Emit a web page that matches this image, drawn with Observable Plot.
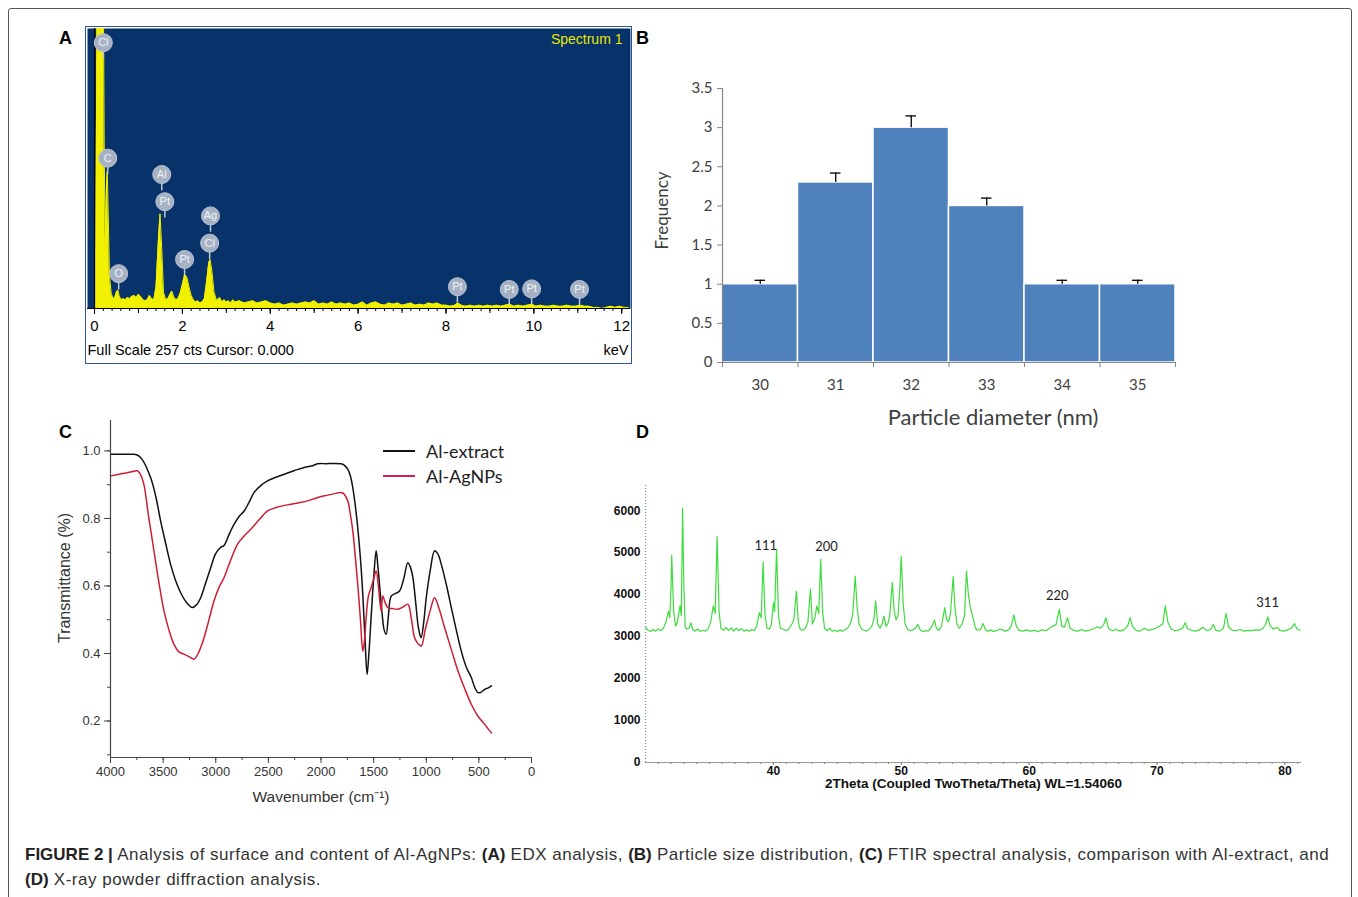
<!DOCTYPE html>
<html><head><meta charset="utf-8">
<script src="https://cdn.jsdelivr.net/npm/d3@7"></script>
<script src="https://cdn.jsdelivr.net/npm/@observablehq/plot@0.6"></script>
<style>
body{margin:0;background:#fff;}
#fig{position:relative;width:1358px;height:897px;overflow:hidden;font-family:"Liberation Sans",Arial,sans-serif;background:#fff;}
.panel{position:absolute;}
.panel svg{overflow:visible;display:block;}
.lab{position:absolute;font-weight:bold;font-size:18px;color:#000;line-height:20px;}
#frame{position:absolute;left:8px;top:8px;width:1342px;height:910px;border:1.5px solid #555;border-radius:3px;}
.cap{position:absolute;left:25px;font-size:17px;line-height:20px;color:#333;white-space:nowrap;letter-spacing:0.5px;}
.cap b{color:#222;letter-spacing:0;}
.leg{position:absolute;font-family:Lato,"Open Sans",sans-serif;font-size:18px;color:#222;display:flex;align-items:center;}
.leg span.ln{display:inline-block;width:32px;height:2px;margin-right:11px;}
</style></head><body>
<div id="fig">
  <div id="frame"></div>
  <div class="panel" id="pA" style="left:86px;top:27px;"></div>
  <div class="panel" id="pB" style="left:640px;top:70px;"></div>
  <div class="panel" id="pC" style="left:50px;top:410px;"></div>
  <div class="panel" id="pD" style="left:600px;top:470px;"></div>
  <div class="lab" style="left:59px;top:28px;">A</div>
  <div class="lab" style="left:636px;top:28px;">B</div>
  <div class="lab" style="left:59px;top:422px;">C</div>
  <div class="lab" style="left:636px;top:422px;">D</div>
  <div class="leg" style="left:383px;top:440px;"><span class="ln" style="background:#111"></span>Al-extract</div>
  <div class="leg" style="left:383px;top:465px;"><span class="ln" style="background:#d81b60"></span>Al-AgNPs</div>
  <div class="cap" style="top:845px;"><b>FIGURE 2 |</b> Analysis of surface and content of Al-AgNPs: <b>(A)</b> EDX analysis, <b>(B)</b> Particle size distribution, <b>(C)</b> FTIR spectral analysis, comparison with Al-extract, and</div>
  <div class="cap" style="top:870px;"><b>(D)</b> X-ray powder diffraction analysis.</div>
</div>
<script>
// ---------- Panel A: EDX spectrum ----------
const edxKeV = [0.00,0.03,0.06,0.10,0.15,0.20,0.22,0.24,0.27,0.29,0.31,0.34,0.38,0.42,0.46,0.50,0.53,0.56,0.60,0.65,0.70,0.75,0.80,0.85,0.90,0.95,1.00,1.05,1.10,1.15,1.20,1.25,1.30,1.35,1.40,1.45,1.49,1.53,1.57,1.62,1.67,1.72,1.76,1.80,1.85,1.90,1.95,2.00,2.05,2.10,2.15,2.20,2.25,2.30,2.35,2.40,2.45,2.50,2.55,2.60,2.63,2.67,2.72,2.78,2.85,2.90,2.95,3.00,3.05,3.10,3.15,3.20,3.30,3.40,3.50,3.60,3.70,3.80,3.90,4.00,4.10,4.20,4.30,4.40,4.50,4.60,4.70,4.80,4.90,5.00,5.10,5.20,5.30,5.40,5.50,5.60,5.70,5.80,5.90,6.00,6.10,6.20,6.30,6.40,6.50,6.60,6.70,6.80,6.90,7.00,7.10,7.20,7.30,7.40,7.50,7.60,7.70,7.80,7.90,8.00,8.10,8.20,8.27,8.35,8.45,8.55,8.65,8.75,8.85,8.95,9.05,9.15,9.25,9.35,9.44,9.55,9.65,9.75,9.85,9.95,10.05,10.15,10.25,10.35,10.45,10.55,10.65,10.75,10.85,10.95,11.05,11.15,11.25,11.35,11.45,11.55,11.65,11.75,11.85,11.95,12.05,12.15];
const edxCounts = [0,60,300,300,300,300,150,60,110,126,90,30,14,9,10,15,17,12,8,9,8,10,9,11,12,10,13,11,8,7,8,12,9,8,20,60,87,55,15,8,9,13,16,11,8,9,14,22,31,29,20,12,8,6,7,5,6,9,24,42,45,35,15,7,10,6,8,6,7,5,8,6,7,5,6,7,5,6,7,5,4,5,3,4,5,4,5,6,5,7,4,5,4,6,4,5,4,5,3,4,6,3,5,6,4,3,5,4,5,3,4,5,3,4,3,5,4,5,3,3,2,3,5,3,2,3,2,3,2,3,2,3,2,3,4,2,3,2,3,4,2,3,2,2,3,2,2,3,2,2,3,2,2,1,1,0,1,2,1,2,1,1];
const edxElements = ["Cl","C","O","Al","Pt","Pt","Ag","Cl","Pt","Pt","Pt","Pt"];
const edxLabelKeV = [0.20,0.30,0.55,1.53,1.60,2.05,2.64,2.62,8.26,9.44,9.95,11.04];
const edxLabelCts = [244,138,32,123,98,45,85,60,20,17.5,18,17.5];
const edxTickLabels = [0,2,4,6,8,10,12];

// ---------- Panel B: particle size ----------
const sizeNm = [30,31,32,33,34,35];
const sizeFreq = [1,2.3,3,2,1,1];
const sizeErr = [0.05,0.12,0.15,0.1,0.05,0.05];
const freqTicks = [0,0.5,1,1.5,2,2.5,3,3.5];

// ---------- Panel C: FTIR ----------
const ftirExtractWn = [4000,3900,3800,3746,3700,3619,3570,3524,3475,3429,3380,3333,3280,3222,3180,3143,3100,3048,3010,2984,2950,2921,2870,2825,2780,2730,2680,2635,2570,2508,2430,2349,2250,2159,2090,2032,1950,1880,1810,1780,1746,1720,1698,1675,1651,1625,1603,1580,1562,1545,1524,1500,1476,1460,1444,1420,1400,1381,1360,1333,1290,1254,1215,1175,1150,1127,1100,1079,1060,1048,1025,1000,960,921,890,857,810,762,715,667,620,571,540,508,480,444,410,381];
const ftirExtractT = [0.99,0.99,0.99,0.988,0.975,0.921,0.865,0.793,0.725,0.664,0.615,0.58,0.552,0.536,0.545,0.565,0.605,0.654,0.69,0.704,0.715,0.72,0.755,0.783,0.805,0.822,0.85,0.877,0.898,0.911,0.922,0.931,0.942,0.951,0.955,0.962,0.962,0.963,0.962,0.958,0.946,0.925,0.891,0.84,0.773,0.68,0.575,0.43,0.338,0.4,0.506,0.62,0.704,0.66,0.605,0.52,0.47,0.457,0.51,0.57,0.578,0.585,0.62,0.669,0.655,0.625,0.55,0.486,0.455,0.447,0.49,0.565,0.65,0.704,0.695,0.664,0.605,0.536,0.47,0.407,0.36,0.328,0.3,0.284,0.285,0.294,0.298,0.304];
const ftirAgWn = [4000,3900,3800,3746,3715,3683,3640,3587,3540,3492,3445,3397,3350,3302,3250,3206,3160,3111,3060,3016,2970,2921,2860,2794,2730,2667,2590,2508,2400,2286,2200,2127,2050,1968,1890,1810,1780,1746,1720,1698,1675,1651,1625,1603,1590,1571,1550,1524,1500,1476,1455,1429,1413,1390,1365,1320,1270,1220,1175,1140,1111,1080,1048,1010,960,921,880,825,760,698,640,571,510,444,410,381];
const ftirAgT = [0.926,0.932,0.938,0.941,0.93,0.901,0.81,0.704,0.61,0.526,0.47,0.427,0.405,0.398,0.39,0.383,0.405,0.447,0.505,0.556,0.595,0.625,0.675,0.723,0.748,0.768,0.795,0.822,0.835,0.842,0.847,0.852,0.86,0.867,0.872,0.877,0.872,0.852,0.81,0.763,0.69,0.605,0.5,0.407,0.43,0.506,0.57,0.595,0.62,0.644,0.6,0.526,0.57,0.55,0.536,0.533,0.531,0.538,0.546,0.5,0.447,0.43,0.422,0.47,0.53,0.565,0.535,0.476,0.41,0.348,0.3,0.249,0.215,0.19,0.176,0.165];
const ftirWnTicks = [4000,3500,3000,2500,2000,1500,1000,500,0];
const ftirTTicks = [0.2,0.4,0.6,0.8,1.0];

// ---------- Panel D: XRD ----------
const xrdTheta = [30.0,30.2,30.4,30.6,30.8,31.0,31.2,31.4,31.6,31.8,31.9,32.0,32.05,32.2,32.35,32.5,32.7,32.8,32.9,33.0,33.1,33.2,33.4,33.55,33.7,33.9,34.1,34.3,34.5,34.7,34.9,35.1,35.3,35.45,35.6,35.75,35.9,36.1,36.3,36.5,36.7,36.9,37.1,37.3,37.5,37.7,37.9,38.1,38.3,38.5,38.7,38.9,39.05,39.2,39.35,39.5,39.7,39.85,40.0,40.1,40.25,40.4,40.55,40.8,41.0,41.2,41.45,41.6,41.8,41.95,42.1,42.3,42.5,42.7,42.9,43.05,43.25,43.4,43.55,43.7,43.85,44.0,44.2,44.4,44.6,44.8,45.0,45.2,45.4,45.6,45.8,46.0,46.2,46.4,46.55,46.7,46.9,47.1,47.3,47.5,47.7,47.85,48.0,48.15,48.35,48.5,48.65,48.8,48.95,49.1,49.3,49.45,49.6,49.75,49.9,50.0,50.15,50.3,50.5,50.7,50.9,51.1,51.3,51.5,51.7,51.9,52.1,52.3,52.45,52.6,52.75,52.95,53.15,53.4,53.55,53.7,53.85,54.06,54.2,54.35,54.55,54.75,54.95,55.1,55.25,55.4,55.6,55.8,56.0,56.2,56.4,56.6,56.8,57.0,57.2,57.5,57.8,58.1,58.4,58.6,58.8,59.0,59.2,59.5,59.8,60.1,60.4,60.7,61.0,61.3,61.6,61.85,62.1,62.36,62.55,62.75,63.0,63.2,63.5,63.8,64.1,64.4,64.7,65.0,65.3,65.6,65.85,66.0,66.2,66.5,66.8,67.1,67.4,67.7,67.9,68.1,68.4,68.7,69.0,69.3,69.6,69.9,70.2,70.45,70.65,70.85,71.1,71.4,71.7,72.0,72.2,72.4,72.7,73.0,73.3,73.6,73.9,74.2,74.4,74.6,74.9,75.2,75.4,75.6,75.9,76.2,76.5,76.8,77.1,77.4,77.7,78.0,78.3,78.5,78.66,78.85,79.1,79.4,79.6,79.9,80.2,80.5,80.75,80.95,81.2];
const xrdCounts = [3230,3150,3120,3170,3130,3180,3140,3200,3350,3610,3450,4200,4936,3600,3250,3350,3730,3500,6060,4200,3250,3180,3200,3330,3160,3130,3180,3120,3150,3130,3190,3350,3730,3550,5380,3600,3200,3150,3220,3140,3210,3130,3200,3140,3190,3130,3160,3130,3170,3140,3250,3570,3450,4775,3500,3200,3180,3300,3810,3600,5080,3500,3200,3170,3140,3180,3300,3400,4080,3350,3170,3150,3200,3350,4130,3300,3450,3730,3550,4840,3600,3200,3140,3200,3130,3150,3120,3160,3130,3170,3200,3300,3500,4440,3700,3300,3180,3150,3130,3180,3250,3400,3850,3300,3200,3300,3490,3250,3300,3500,4290,3600,3400,3500,4200,4910,3800,3300,3170,3140,3160,3200,3290,3150,3120,3140,3130,3200,3280,3390,3200,3150,3250,3690,3400,3350,3550,4430,3700,3300,3200,3300,3500,4560,4010,3700,3470,3200,3150,3170,3310,3150,3130,3160,3120,3150,3180,3130,3160,3250,3515,3250,3150,3130,3160,3130,3150,3120,3160,3140,3200,3250,3280,3650,3250,3220,3450,3200,3150,3130,3170,3130,3150,3180,3230,3200,3300,3450,3200,3140,3170,3130,3160,3250,3450,3230,3140,3130,3200,3150,3170,3200,3250,3300,3730,3350,3180,3140,3160,3200,3330,3180,3150,3130,3160,3220,3140,3170,3290,3150,3130,3200,3550,3230,3150,3140,3170,3130,3150,3140,3160,3150,3200,3300,3470,3250,3180,3220,3150,3130,3160,3200,3310,3180,3150];
const xrdHkl = ["111","200","220","311"];
const xrdHklTheta = [39.4,44.15,62.2,78.65];
const xrdHklCounts = [5170,5140,3970,3800];
const xrdCountTicks = [0,1000,2000,3000,4000,5000,6000];
const xrdThetaTicks = [40,50,60,70,80];

// ===== Panel A =====
const edxData = edxKeV.map((k, i) => ({keV: k, cts: edxCounts[i]}));
const edxLabels = edxElements.map((el, i) => ({el, keV: edxLabelKeV[i], cts: edxLabelCts[i]}));
const plotA = Plot.plot({
  width: 545, height: 336, marginTop: 1, marginLeft: 1, marginRight: 1, marginBottom: 55,
  x: {domain: [-0.16, 12.2], label: null},
  y: {domain: [0, 257], label: null, axis: null},
  style: {fontFamily: "'Liberation Sans', Arial, sans-serif", fontSize: "14px", color: "#000", background: "#fff", outline: "1.2px solid #2f5597"},
  marks: [
    Plot.frame({fill: "#08336a", stroke: null}),
    Plot.areaY(edxData, {x: "keV", y: "cts", fill: "#f0f000", curve: "linear", clip: true}),
    Plot.lineY(edxData, {x: "keV", y: "cts", stroke: "#f0f000", strokeWidth: 1, clip: true}),
    Plot.ruleX([0], {stroke: "#000", strokeWidth: 1.2}),
    Plot.ruleX(edxLabels, {x: "keV", y1: "cts", y2: d => d.cts - 15, stroke: "#c2cad6", strokeWidth: 1.5}),
    Plot.dot(edxLabels, {x: "keV", y: "cts", r: 9, fill: "#a6b2c4", stroke: "#b9c3d1", strokeWidth: 1}),
    Plot.text(edxLabels, {x: "keV", y: "cts", text: "el", fill: "#eef2f7", fontSize: 11}),
    Plot.ruleY([0], {stroke: "#000", strokeWidth: 1.2}),
    Plot.axisX({ticks: d3.range(0, 12.01, 0.2), tickSize: 3, tickFormat: () => "", stroke: "#000"}),
    Plot.axisX({ticks: d3.range(0, 12.01, 1), tickSize: 5, tickFormat: () => "", stroke: "#000"}),
    Plot.axisX({ticks: edxTickLabels, tickSize: 6, tickPadding: 6, tickFormat: d => String(d), fill: "#000", fontSize: 15}),
    Plot.text(["Spectrum 1"], {frameAnchor: "top-right", dx: -8, dy: 11, lineAnchor: "middle", fill: "#e8e800", fontSize: 14}),
    Plot.text(["Full Scale 257 cts Cursor: 0.000"], {frameAnchor: "bottom-left", textAnchor: "start", lineAnchor: "middle", dy: 42, dx: 0, fill: "#000", fontSize: 14.5}),
    Plot.text(["keV"], {frameAnchor: "bottom-right", textAnchor: "end", lineAnchor: "middle", dy: 42, dx: -2, fill: "#000", fontSize: 14.5})
  ]
});
document.getElementById("pA").appendChild(plotA);

// ===== Panel B =====
const bars = sizeNm.map((n, i) => ({nm: n, f: sizeFreq[i], e: sizeErr[i]}));
const plotB = Plot.plot({
  width: 560, height: 370, marginTop: 18, marginLeft: 82, marginRight: 25, marginBottom: 78,
  x: {domain: [sizeNm[0] - 0.5, sizeNm[sizeNm.length - 1] + 0.5], label: null},
  y: {domain: [0, 3.5], label: null},
  style: {fontFamily: "Lato, 'Open Sans', sans-serif", fontSize: "15px", color: "#404040", background: "transparent"},
  marks: [
    Plot.rectY(bars, {x1: d => d.nm - 0.5, x2: d => d.nm + 0.5, y: "f", fill: "#4f81bd", stroke: "#fff", strokeWidth: 1.5}),
    Plot.ruleX(bars, {x: "nm", y1: "f", y2: d => d.f + d.e, stroke: "#000", strokeWidth: 1.3}),
    Plot.ruleY(bars, {y: d => d.f + d.e, x1: d => d.nm - 0.07, x2: d => d.nm + 0.07, stroke: "#000", strokeWidth: 1.3}),
    Plot.ruleX([sizeNm[0] - 0.5], {stroke: "#868686", strokeWidth: 1.2}),
    Plot.ruleY([0], {stroke: "#868686", strokeWidth: 1.2}),
    Plot.axisY({ticks: freqTicks, tickSize: 5, tickPadding: 5, tickFormat: d => String(d), stroke: "#868686", fill: "#404040", fontSize: 15}),
    Plot.axisX({ticks: sizeNm.map(n => n - 0.5).concat([sizeNm[sizeNm.length - 1] + 0.5]), tickSize: 5, tickFormat: () => "", stroke: "#868686"}),
    Plot.axisX({ticks: sizeNm, tickSize: 0, tickPadding: 17, tickFormat: d => String(d), fill: "#404040", fontSize: 15}),
    Plot.text(["Frequency"], {frameAnchor: "left", textAnchor: "middle", rotate: -90, dx: -60, dy: -15, fill: "#404040", fontSize: 17}),
    Plot.text(["Particle diameter (nm)"], {frameAnchor: "bottom", dx: 44, dy: 55, lineAnchor: "middle", fill: "#404040", fontSize: 22})
  ]
});
document.getElementById("pB").appendChild(plotB);

// ===== Panel C =====
const ftir = ftirExtractWn.map((w, i) => ({wn: w, t: ftirExtractT[i], s: "Al-extract"}))
  .concat(ftirAgWn.map((w, i) => ({wn: w, t: ftirAgT[i], s: "Al-AgNPs"})));
const plotC = Plot.plot({
  width: 500, height: 400, marginTop: 10, marginLeft: 60, marginRight: 19, marginBottom: 53,
  x: {domain: [4000, 0], label: null},
  y: {domain: [0.092, 1.09], label: null},
  color: {domain: ["Al-extract", "Al-AgNPs"], range: ["#111111", "#cc1f35"]},
  style: {fontFamily: "'Liberation Sans', Arial, sans-serif", fontSize: "13px", color: "#333", background: "transparent"},
  marks: [
    Plot.line(ftir, {x: "wn", y: "t", z: "s", stroke: "s", strokeWidth: 1.5, curve: "catmull-rom"}),
    Plot.ruleX([4000], {stroke: "#444", strokeWidth: 1.2}),
    Plot.ruleY([0.092], {stroke: "#444", strokeWidth: 1.2}),
    Plot.axisY({ticks: d3.range(0.1, 1.09, 0.1), tickSize: 3, tickFormat: () => "", stroke: "#444"}),
    Plot.axisY({ticks: ftirTTicks, tickSize: 6, tickPadding: 4, tickFormat: d => d.toFixed(1), stroke: "#444", fill: "#333", fontSize: 13}),
    Plot.axisX({ticks: d3.range(0, 4001, 250), tickSize: 3, tickFormat: () => "", stroke: "#444"}),
    Plot.axisX({ticks: ftirWnTicks, tickSize: 6, tickPadding: 3, tickFormat: d => String(d), stroke: "#444", fill: "#333", fontSize: 13}),
    Plot.text(["Transmittance (%)"], {frameAnchor: "left", textAnchor: "middle", rotate: -90, dx: -46, dy: -11, fill: "#333", fontSize: 16}),
    Plot.text(["Wavenumber (cm\u207B\u00B9)"], {frameAnchor: "bottom", dy: 40, lineAnchor: "middle", fill: "#333", fontSize: 15.5})
  ]
});
document.getElementById("pC").appendChild(plotC);

// ===== Panel D =====
const xrd = xrdTheta.map((t, i) => ({th: t, c: xrdCounts[i]}));
const hkl = xrdHkl.map((h, i) => ({h, th: xrdHklTheta[i], c: xrdHklCounts[i]}));
const plotD = Plot.plot({
  width: 720, height: 330, marginTop: 15, marginLeft: 45, marginRight: 19, marginBottom: 38,
  x: {domain: [30, 81.3], label: null},
  y: {domain: [0, 6600], label: null},
  style: {fontFamily: "'Liberation Sans', Arial, sans-serif", fontSize: "12px", color: "#111", background: "transparent"},
  marks: [
    Plot.line(xrd, {x: "th", y: "c", stroke: "#3fdc3f", strokeWidth: 1.2}),
    Plot.ruleX([30], {stroke: "#888", strokeWidth: 1.2, strokeDasharray: "1,2"}),
    Plot.ruleY([0], {stroke: "#999", strokeWidth: 1}),
    Plot.axisX({ticks: d3.range(31, 82, 1), tickSize: 2, tickFormat: () => "", stroke: "#888"}),
    Plot.axisX({ticks: xrdThetaTicks, tickSize: 3, tickPadding: 1, tickFormat: d => String(d), stroke: "#888", fill: "#111", fontWeight: "bold", fontSize: 12}),
    Plot.axisY({ticks: xrdCountTicks, tickSize: 0, tickPadding: 5, tickFormat: d => String(d), fill: "#111", fontWeight: "bold", fontSize: 12}),
    Plot.text(hkl, {x: "th", y: "c", text: "h", fill: "#222", fontSize: 13, fontFamily: "Lato, 'Open Sans', sans-serif"}),
    Plot.text(["2Theta (Coupled TwoTheta/Theta) WL=1.54060"], {frameAnchor: "bottom", dy: 21, lineAnchor: "middle", fill: "#111", fontWeight: "bold", fontSize: 13.5})
  ]
});
document.getElementById("pD").appendChild(plotD);
</script>
</body></html>
